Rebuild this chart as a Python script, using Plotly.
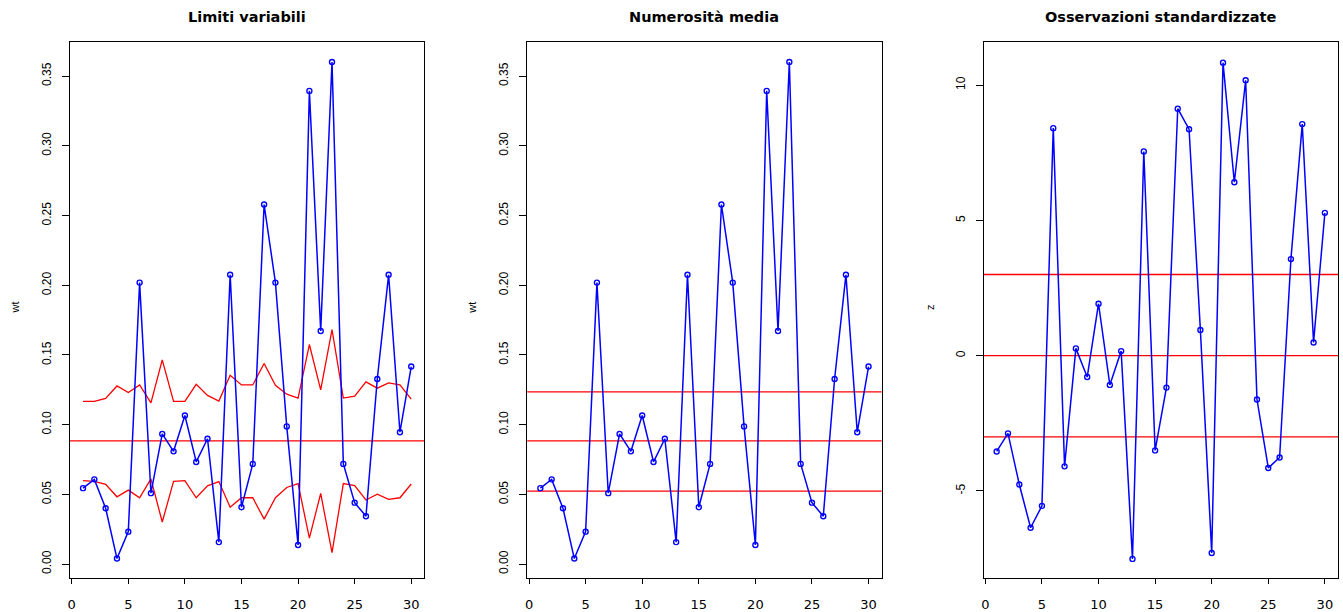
import plotly.graph_objects as go

W, H = 1343, 612

obs = list(range(1, 31))
wt = [0.0545, 0.0608, 0.0401, 0.0040, 0.0233, 0.2019, 0.0509, 0.0934, 0.0809, 0.1066,
      0.0733, 0.0899, 0.0158, 0.2075, 0.0408, 0.0719, 0.2579, 0.2019, 0.0988, 0.0137,
      0.3394, 0.1672, 0.3601, 0.0719, 0.0441, 0.0344, 0.1328, 0.2075, 0.0946, 0.1417]
ucl_var = [0.1167, 0.1167, 0.1189, 0.1278, 0.1231, 0.1285, 0.1156, 0.1465, 0.1167, 0.1167,
           0.1290, 0.1210, 0.1170, 0.1354, 0.1285, 0.1285, 0.1439, 0.1283, 0.1219, 0.1191,
           0.1575, 0.1250, 0.1682, 0.1191, 0.1205, 0.1307, 0.1262, 0.1300, 0.1285, 0.1184]
lcl_var = [0.0599, 0.0594, 0.0573, 0.0483, 0.0531, 0.0476, 0.0611, 0.0302, 0.0594, 0.0599,
           0.0476, 0.0561, 0.0592, 0.0408, 0.0476, 0.0476, 0.0323, 0.0476, 0.0550, 0.0578,
           0.0186, 0.0507, 0.0083, 0.0578, 0.0564, 0.0460, 0.0502, 0.0465, 0.0476, 0.0575]
center = 0.0884
limits_mean = [0.0524, 0.0884, 0.1236]
z = [-3.54, -2.87, -4.76, -6.36, -5.55, 8.41, -4.09, 0.27, -0.79, 1.92,
     -1.08, 0.17, -7.51, 7.55, -3.50, -1.18, 9.13, 8.37, 0.95, -7.29,
     10.83, 6.41, 10.18, -1.62, -4.15, -3.76, 3.57, 8.56, 0.49, 5.28]
z_limits = [-3, 0, 3]

titles = ["Limiti variabili", "Numerosità media", "Osservazioni standardizzate"]
ylabels = ["wt", "wt", "z"]
x_ticks = [0, 5, 10, 15, 20, 25, 30]
wt_ticks = [0.00, 0.05, 0.10, 0.15, 0.20, 0.25, 0.30, 0.35]
z_ticks = [-5, 0, 5, 10]

BLUE = "#0000FF"
RED = "#FF0000"
FONT = "Liberation Sans, Arial, sans-serif"
WIDE = "DejaVu Sans, Verdana, sans-serif"

# panel pixel boxes (left, right), shared top/bottom
boxes = [(68, 423), (526, 881), (983, 1338)]
top_px, bot_px = 43, 587
ydom = [1 - bot_px / H, 1 - top_px / H]

fig = go.Figure()

def blue_series(xa, ya, y):
    fig.add_trace(go.Scatter(
        x=obs, y=y, xaxis=xa, yaxis=ya, mode="lines+markers",
        line=dict(color=BLUE, width=1.5),
        marker=dict(symbol="circle-open", size=5, color=BLUE, line=dict(width=1.4, color=BLUE)),
        showlegend=False, hoverinfo="x+y"))

# Panel 1
fig.add_trace(go.Scatter(x=obs, y=ucl_var, xaxis="x", yaxis="y", mode="lines",
                         line=dict(color=RED, width=1.3), showlegend=False))
fig.add_trace(go.Scatter(x=obs, y=lcl_var, xaxis="x", yaxis="y", mode="lines",
                         line=dict(color=RED, width=1.3), showlegend=False))
blue_series("x", "y", wt)
# Panel 2
blue_series("x2", "y2", wt)
# Panel 3
blue_series("x3", "y3", z)

shapes = []
shapes.append(dict(type="line", xref="x domain", yref="y", x0=0, x1=1, y0=center, y1=center,
                   line=dict(color=RED, width=1.3), layer="below"))
for v in limits_mean:
    shapes.append(dict(type="line", xref="x2 domain", yref="y2", x0=0, x1=1, y0=v, y1=v,
                       line=dict(color=RED, width=1.3), layer="below"))
for v in z_limits:
    shapes.append(dict(type="line", xref="x3 domain", yref="y3", x0=0, x1=1, y0=v, y1=v,
                       line=dict(color=RED, width=1.3), layer="below"))

def xaxis_cfg(i):
    l, r = boxes[i]
    return dict(domain=[l / W, r / W], range=[-0.16, 31.16], tickmode="array", tickvals=x_ticks,
                ticks="outside", ticklen=5, tickwidth=1, tickcolor="black",
                showline=True, linecolor="black", linewidth=1, mirror=True,
                showgrid=False, zeroline=False, anchor="y" if i == 0 else f"y{i+1}",
                tickfont=dict(family=WIDE, size=13, color="black"), ticklabelstandoff=9)

def yaxis_cfg(i, rng, ticks, fmt):
    return dict(domain=ydom, range=rng, tickmode="array", tickvals=ticks,
                ticktext=[fmt.format(t) for t in ticks],
                ticks="outside", ticklen=7, tickwidth=1, tickcolor="black",
                showline=True, linecolor="black", linewidth=1, mirror=True,
                showgrid=False, zeroline=False, tickangle=-90,
                anchor="x" if i == 0 else f"x{i+1}",
                tickfont=dict(family=FONT, size=12, color="black"), ticklabelstandoff=6)

wt_range = [-0.0102, 0.3742]
z_range = [-8.23, 11.58]

layout = dict(
    width=W, height=H, margin=dict(l=0, r=0, t=0, b=0),
    paper_bgcolor="white", plot_bgcolor="white",
    xaxis=xaxis_cfg(0), xaxis2=xaxis_cfg(1), xaxis3=xaxis_cfg(2),
    yaxis=yaxis_cfg(0, wt_range, wt_ticks, "{:.2f}"),
    yaxis2=yaxis_cfg(1, wt_range, wt_ticks, "{:.2f}"),
    yaxis3=yaxis_cfg(2, z_range, z_ticks, "{:d}"),
    shapes=shapes, showlegend=False,
)

annotations = []
label_x = [13, 471, 930]
for i, (l, r) in enumerate(boxes):
    annotations.append(dict(text="<b>" + titles[i] + "</b>", xref="paper", yref="paper",
                            x=(l + r) / 2 / W, y=1 - 17 / H, showarrow=False,
                            xanchor="center", yanchor="middle",
                            font=dict(family=WIDE, size=14.5, color="black")))
    annotations.append(dict(text=ylabels[i], xref="paper", yref="paper",
                            x=label_x[i] / W, y=1 - 312 / H, showarrow=False, textangle=-90,
                            xanchor="center", yanchor="middle",
                            font=dict(family=FONT, size=11, color="black")))
layout["annotations"] = annotations
fig.update_layout(**layout)

fig.write_html("out.html", config={"displayModeBar": False},
               post_script="document.body.style.margin='0';document.body.style.padding='0';")
